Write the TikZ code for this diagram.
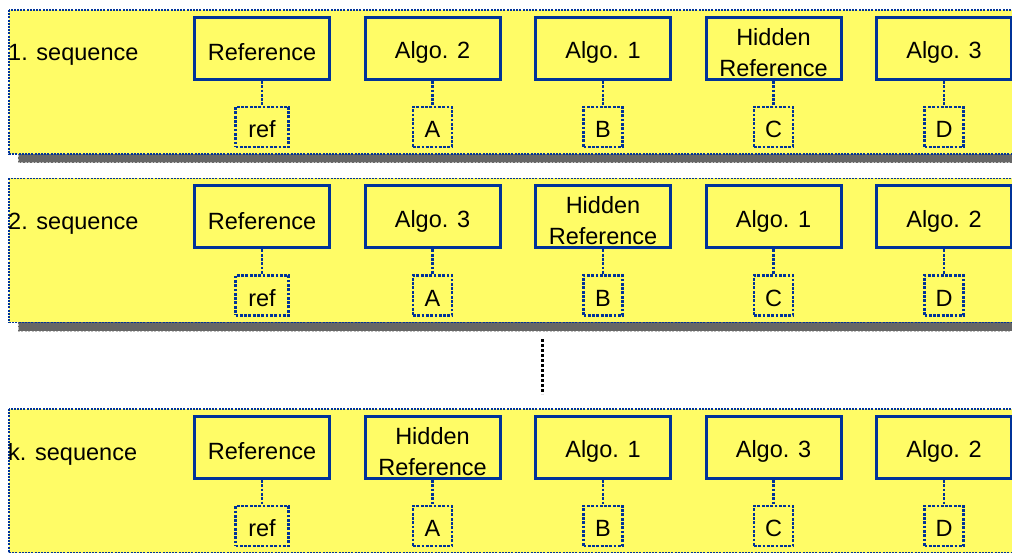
\documentclass[tikz,border=0pt]{standalone}
\usepackage{fontspec}
\setmainfont{Liberation Sans}
\definecolor{bandyellow}{RGB}{255,252,102}
\definecolor{boxblue}{RGB}{0,51,153}
\definecolor{shadowgray}{RGB}{102,102,102}
\begin{document}
\begin{tikzpicture}[x=1pt,y=-1pt,
  band/.style={fill=bandyellow, draw=boxblue, line width=1.5pt, dash pattern=on 2pt off 1.2pt},
  bandshadow/.style={fill=shadowgray, draw=white!75!black, line width=1pt, dash pattern=on 2pt off 1.5pt},
  algobox/.style={draw=boxblue, fill=bandyellow, line width=3pt, minimum width=135pt, minimum height=62pt,
    inner sep=0pt},
  algotext/.style={inner sep=0pt, align=center, font=\fontsize{23.5}{31}\selectfont},
  labelbox/.style={draw=boxblue, line width=2.8pt, dash pattern=on 2.8pt off 1.5pt, minimum height=40pt,
    inner sep=0pt},
  labeltext/.style={inner sep=0pt, font=\fontsize{23.5}{28}\selectfont},
  link/.style={draw=boxblue, line width=2.8pt, dash pattern=on 2.8pt off 1.5pt},
  seqlabel/.style={anchor=west, inner sep=0pt, font=\fontsize{23.5}{28}\selectfont},
  ellipsis/.style={draw=black, line width=3pt, dash pattern=on 3pt off 2pt}
]
\useasboundingbox (0,0) rectangle (1012,553);
\begin{scope}
\clip (0,0) rectangle (1012,553);

% background bands with drop shadows
\foreach \dy in {0,168.5,399} {
  \fill[bandshadow] (18,19+\dy) rectangle (1040,163+\dy);
  \filldraw[band] (9,10+\dy) rectangle (1030,154+\dy);
}

% sequence labels
\node[seqlabel] (seq1) at (8,55) {1. sequence};
\node[seqlabel] (seq2) at (8,223.5) {2. sequence};
\node[seqlabel] (seq3) at (8,454) {k. sequence};

% 1. sequence
\foreach \t [count=\i] in {Reference, Algo. 2, Algo. 1, {Hidden\\Reference}, Algo. 3} {
  \node[algobox] (ra\i) at ({262+170.5*(\i-1)},48.5) {};
  \node[algotext] (ta\i) at ([yshift=-4pt]ra\i.center) {\t};
}
\foreach \s/\w [count=\i] in {ref/53, A/39, B/39, C/39, D/39} {
  \node[labelbox, minimum width=\w pt] (sa\i) at ({262+170.5*(\i-1)},127) {};
  \node[labeltext] (la\i) at ([yshift=-2.5pt]sa\i.center) {\s};
  \draw[link] (ra\i.south) -- (sa\i.north);
}

% 2. sequence
\foreach \t [count=\i] in {Reference, Algo. 3, {Hidden\\Reference}, Algo. 1, Algo. 2} {
  \node[algobox] (rb\i) at ({262+170.5*(\i-1)},217) {};
  \node[algotext] (tb\i) at ([yshift=-4pt]rb\i.center) {\t};
}
\foreach \s/\w [count=\i] in {ref/53, A/39, B/39, C/39, D/39} {
  \node[labelbox, minimum width=\w pt] (sb\i) at ({262+170.5*(\i-1)},295.5) {};
  \node[labeltext] (lb\i) at ([yshift=-2.5pt]sb\i.center) {\s};
  \draw[link] (rb\i.south) -- (sb\i.north);
}

% k. sequence
\foreach \t [count=\i] in {Reference, {Hidden\\Reference}, Algo. 1, Algo. 3, Algo. 2} {
  \node[algobox] (rc\i) at ({262+170.5*(\i-1)},447.5) {};
  \node[algotext] (tc\i) at ([yshift=-4pt]rc\i.center) {\t};
}
\foreach \s/\w [count=\i] in {ref/53, A/39, B/39, C/39, D/39} {
  \node[labelbox, minimum width=\w pt] (sc\i) at ({262+170.5*(\i-1)},526) {};
  \node[labeltext] (lc\i) at ([yshift=-2.5pt]sc\i.center) {\s};
  \draw[link] (rc\i.south) -- (sc\i.north);
}

% vertical ellipsis between the sequences
\coordinate (dotsTop) at (542,339);
\coordinate (dotsBot) at (542,394);
\draw[ellipsis] (dotsTop) -- (dotsBot);
\end{scope}
\end{tikzpicture}
\end{document}
